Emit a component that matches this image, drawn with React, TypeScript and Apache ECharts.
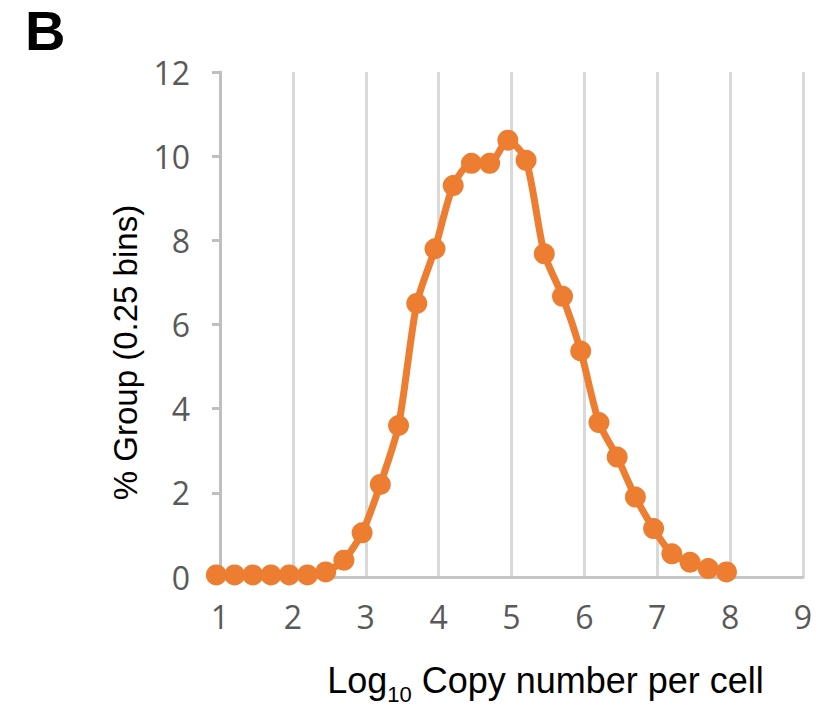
import React, { useEffect, useRef } from "react";
import * as echarts from "echarts";

const xValues = [1, 1.25, 1.5, 1.75, 2, 2.25, 2.5, 2.75, 3, 3.25, 3.5, 3.75, 4, 4.25, 4.5, 4.75, 5, 5.25, 5.5, 5.75, 6, 6.25, 6.5, 6.75, 7, 7.25, 7.5, 7.75, 8];
const yValues = [0.05, 0.05, 0.05, 0.05, 0.05, 0.05, 0.12, 0.4, 1.05, 2.2, 3.6, 6.5, 7.8, 9.3, 9.83, 9.83, 10.38, 9.9, 7.68, 6.67, 5.37, 3.67, 2.85, 1.9, 1.15, 0.55, 0.35, 0.2, 0.12];
const yTitle = "% Group (0.25 bins)";
const panelLabel = "B";

export default function App() {
  const ref = useRef<HTMLDivElement>(null);
  useEffect(() => {
    if (!ref.current) return;
    const chart = echarts.init(ref.current, undefined, { renderer: "svg" });
    const data = xValues.map((x, i) => [x, yValues[i]]);
    chart.setOption({
      animation: false,
      backgroundColor: "#ffffff",
      grid: { left: 220, right: 23, top: 72, bottom: 129, containLabel: false, outerBoundsMode: "none" },
      graphic: [
        {
          type: "text",
          left: 25,
          top: 2,
          style: { text: panelLabel, fontSize: 56, fontWeight: "bold", fontFamily: "Liberation Sans", fill: "#000" },
        },
      ],
      xAxis: [
        {
          type: "value",
          min: 1,
          max: 9,
          interval: 1,
          axisLine: { show: true, lineStyle: { color: "#c6c6c6", width: 3 } },
          axisTick: { show: false },
          axisLabel: { color: "#595959", fontSize: 32, fontFamily: "Open Sans", margin: 23 },
          splitLine: { show: true, lineStyle: { color: "#d9d9d9", width: 3 } },
          name: "{a|Log}{s|10}{a| Copy number per cell}",
          nameLocation: "middle",
          nameGap: 83,
          nameTextStyle: {
            padding: [0, 0, 0, 68],
            rich: {
              a: { fontSize: 36, fontFamily: "Liberation Sans", color: "#000", lineHeight: 40 },
              s: { fontSize: 22, fontFamily: "Liberation Sans", color: "#000", verticalAlign: "bottom", lineHeight: 22, padding: [0, 0, -5, 0] },
            },
          },
        },
        { type: "value", min: 1.05, max: 9.05, show: false },
      ],
      yAxis: {
        type: "value",
        min: 0,
        max: 12,
        interval: 2,
        axisLine: { show: true, lineStyle: { color: "#bfbfbf", width: 3 } },
        axisTick: { show: true, length: 8, lineStyle: { color: "#bfbfbf", width: 3 } },
        axisLabel: { color: "#595959", fontSize: 32, fontFamily: "Open Sans", margin: 30 },
        splitLine: { show: false },
        name: yTitle,
        nameLocation: "middle",
        nameGap: 78,
        nameTextStyle: { fontSize: 33, fontFamily: "Liberation Sans", color: "#000", padding: [0, 56, 0, 0] },
      },
      series: [
        {
          type: "line",
          xAxisIndex: 1,
          clip: false,
          data,
          smooth: 0.25,
          symbol: "circle",
          symbolSize: 21,
          lineStyle: { color: "#ED7D31", width: 7 },
          itemStyle: { color: "#ED7D31" },
        },
      ],
    });
    return () => chart.dispose();
  }, []);
  return <div ref={ref} style={{ position: "absolute", left: 0, top: 0, width: 826, height: 706 }} />;
}
